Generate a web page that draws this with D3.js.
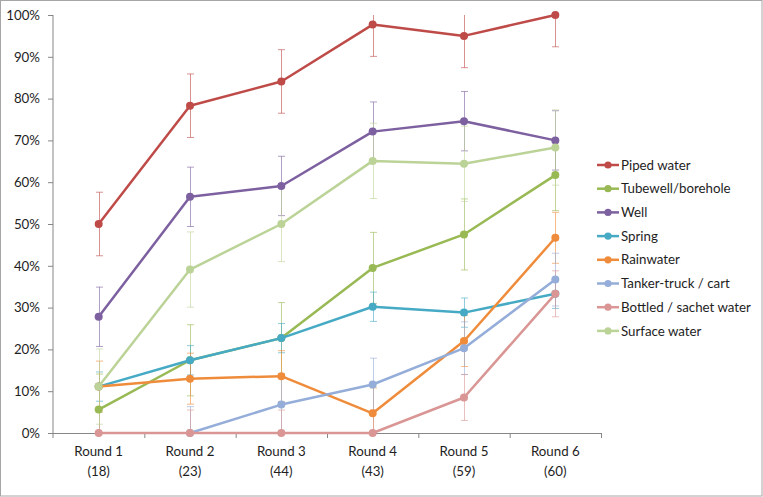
<!DOCTYPE html>
<html><head><meta charset="utf-8">
<script src="https://cdn.jsdelivr.net/npm/d3@7"></script>
<style>
html,body{margin:0;padding:0;background:#fff;}
svg text{font-family:Lato,"Open Sans",sans-serif;fill:#1e1e1e;}
</style></head>
<body><svg id="c" width="763" height="497"></svg>
<script>
const rounds = ["Round 1","Round 2","Round 3","Round 4","Round 5","Round 6"];
const roundN = ["(18)","(23)","(44)","(43)","(59)","(60)"];
const seriesNames = ["Piped water","Tubewell/borehole","Well","Spring","Rainwater","Tanker-truck / cart","Bottled / sachet water","Surface water"];
const seriesColors = ["#BE4B48","#98B954","#7D60A0","#46AAC5","#EF8C3C","#95ADD9","#D99694","#BCD398"];
const piped    = [50.0, 78.3, 84.1, 97.7, 95.0, 100.0];
const tubewell = [5.6, 17.4, 22.7, 39.5, 47.5, 61.7];
const well     = [27.8, 56.5, 59.1, 72.1, 74.6, 70.0];
const spring   = [11.1, 17.4, 22.7, 30.2, 28.8, 33.3];
const rain     = [11.1, 13.0, 13.6, 4.7, 22.0, 46.7];
const tanker   = [null, 0.0, 6.8, 11.6, 20.3, 36.7];
const bottled  = [0.0, 0.0, 0.0, 0.0, 8.5, 33.3];
const surface  = [11.1, 39.1, 50.0, 65.1, 64.4, 68.3];
const errors   = [7.6, 8.5, 7.1, 3.5, 6.1, 6.3, 5.5, 9.0];
const yTicks   = [0,10,20,30,40,50,60,70,80,90,100];

const allValues = [piped, tubewell, well, spring, rain, tanker, bottled, surface];
const svg = d3.select("#c");
const FS = "13.3px";

// outer border
svg.append("rect").attr("x",0.5).attr("y",0.5).attr("width",761.5).attr("height",495.5)
  .attr("fill","none").attr("stroke","#a6a6a6").attr("stroke-width",1);

const L = 53, R = 601, T = 15, B = 433;
const x = d3.scaleBand().domain(rounds).range([L, R]);
const y = d3.scaleLinear().domain([0,100]).range([B, T]);
const cx = r => x(r) + x.bandwidth()/2;

// y axis
const yAxis = svg.append("g").attr("transform",`translate(${L},0)`)
  .call(d3.axisLeft(y).tickValues(yTicks).tickFormat(d => d + "%").tickSize(5).tickPadding(8));
yAxis.select(".domain").attr("stroke","#868686").attr("d",`M0,${T}V${B+5}`);
yAxis.selectAll(".tick line").attr("stroke","#868686");
yAxis.selectAll(".tick text").attr("font-size",FS).attr("fill","#1e1e1e").style("font-family","Lato,sans-serif");

// x axis
const xg = svg.append("g");
xg.append("line").attr("x1",L).attr("x2",R).attr("y1",B+0.5).attr("y2",B+0.5).attr("stroke","#868686");
rounds.forEach((r,i) => {
  const xr = x(r) + x.bandwidth();
  xg.append("line").attr("x1",xr+0.5).attr("x2",xr+0.5).attr("y1",B).attr("y2",B+5).attr("stroke","#868686");
  xg.append("text").attr("x",cx(r)).attr("y",456).attr("text-anchor","middle").attr("font-size",FS).text(r);
  xg.append("text").attr("x",cx(r)).attr("y",476).attr("text-anchor","middle").attr("font-size",FS).text(roundN[i]);
});

const clamp = v => Math.max(0, Math.min(100, v));

// error bars
allValues.forEach((vals, s) => {
  const g = svg.append("g").attr("stroke", seriesColors[s]).attr("stroke-opacity",0.6).attr("stroke-width",1);
  vals.forEach((v,i) => {
    if (v === null) return;
    const px = Math.round(cx(rounds[i])) + 0.5;
    const hi = y(clamp(v + errors[s])), lo = y(clamp(v - errors[s]));
    g.append("line").attr("x1",px).attr("x2",px).attr("y1",hi).attr("y2",lo);
    if (v + errors[s] <= 100) g.append("line").attr("x1",px-3.5).attr("x2",px+3.5).attr("y1",hi).attr("y2",hi);
    if (v - errors[s] >= 0) g.append("line").attr("x1",px-3.5).attr("x2",px+3.5).attr("y1",lo).attr("y2",lo);
  });
});

// lines & markers
const line = d3.line().defined(d => d.v !== null).x(d => cx(d.r)).y(d => y(d.v));
allValues.forEach((vals, s) => {
  const pts = vals.map((v,i) => ({r: rounds[i], v}));
  svg.append("path").datum(pts).attr("d", line).attr("fill","none")
    .attr("stroke", seriesColors[s]).attr("stroke-width",2.5).attr("stroke-linejoin","round");
  svg.append("g").selectAll("circle").data(pts.filter(d => d.v !== null)).join("circle")
    .attr("cx", d => cx(d.r)).attr("cy", d => y(d.v)).attr("r",4).attr("fill", seriesColors[s]);
});

// legend
const lg = svg.append("g");
seriesNames.forEach((n,i) => {
  const ly = 165 + i*23.7;
  lg.append("line").attr("x1",597).attr("x2",619).attr("y1",ly).attr("y2",ly).attr("stroke",seriesColors[i]).attr("stroke-width",2.5);
  lg.append("circle").attr("cx",608).attr("cy",ly).attr("r",3.6).attr("fill",seriesColors[i]);
  lg.append("text").attr("x",621).attr("y",ly).attr("dy","0.35em").attr("font-size",FS).text(n);
});
</script></body></html>
